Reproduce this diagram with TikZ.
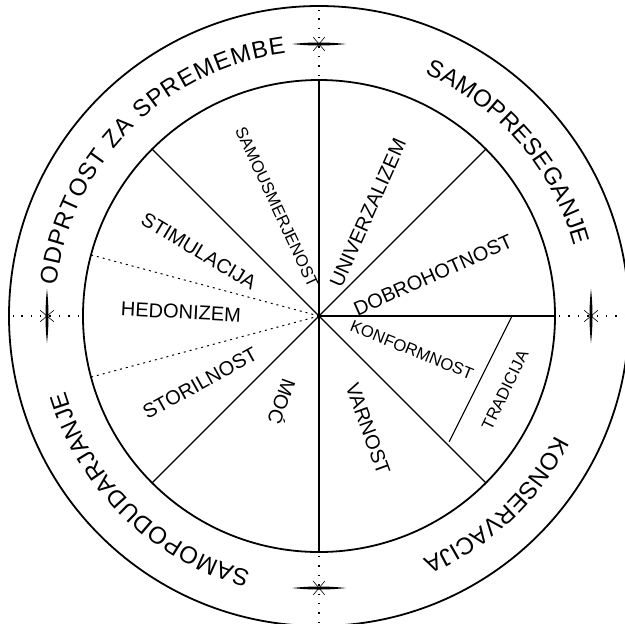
\documentclass[tikz,border=0pt]{standalone}
\usepackage{fontspec}
\setmainfont{Liberation Sans}
\usetikzlibrary{decorations.text}

\begin{document}
\begin{tikzpicture}[
  x=0.5pt, y=0.5pt,
  ring/.style={line width=0.9pt},
  spoke/.style={line width=0.55pt},
  dotspoke/.style={line width=0.5pt, dash pattern=on 1pt off 2pt},
  axisdots/.style={line width=0.7pt, dash pattern=on 0.7pt off 4pt},
  lbl/.style={inner sep=0pt, font=\fontsize{10}{12}\selectfont},
  smalllbl/.style={lbl, font=\fontsize{8.3}{10}\selectfont},
  arclbl/.style={decorate, decoration={text along path, text align={fit to path},
    text={|\fontsize{12}{14}\selectfont|#1}}}
]
  \fill[white] (-319,-307) rectangle (306,316);
  \useasboundingbox (-319,-307) rectangle (306,316);
  \clip (-319,-307) rectangle (306,316);
  \coordinate (c) at (0,0);

  % outer and inner circle
  \draw[ring] (c) circle[radius=310];
  \draw[ring] (c) circle[radius=236];

  % sectors
  \draw[ring] (90:236) -- (270:236);
  \draw[spoke, line width=0.8pt] (c) -- (0:236);
  \foreach \a in {45,135,225,315}
    \draw[spoke] (c) -- (\a:236);
  \foreach \a in {165,195}
    \draw[dotspoke] (c) -- (\a:236);
  \coordinate (tradA) at (0:193);
  \coordinate (tradB) at (-44:181);
  \draw[spoke] (tradA) -- (tradB);

  % marks on the axes
  \foreach \a in {0,90,180,270} {
    \draw[axisdots] (\a:240) -- (\a:306);
    \begin{scope}[rotate=\a]
      \fill (272,-27) .. controls (274,-9) and (274,9) .. (272,27)
        .. controls (270,9) and (270,-9) .. cycle;
      \draw[line width=0.3pt] (272,0) ++(40:9) -- ++(220:18);
      \draw[line width=0.3pt] (272,0) ++(140:9) -- ++(320:18);
    \end{scope}
  }

  % value types
  \node[smalllbl, rotate=-65] (samousmerjenost) at (-42,109) {SAMOUSMERJENOST};
  \node[lbl, rotate=66] (univerzalizem) at (49,103) {UNIVERZALIZEM};
  \node[lbl, rotate=24] (dobrohotnost) at (114,41) {DOBROHOTNOST};
  \node[smalllbl, rotate=-22] (konformnost) at (93,-34) {KONFORMNOST};
  \node[smalllbl, rotate=64] (tradicija) at (186,-74) {TRADICIJA};
  \node[lbl, rotate=-70] (varnost) at (49,-113) {VARNOST};
  \node[lbl, rotate=-110] (moc) at (-36,-86) {MOĆ};
  \node[lbl, rotate=29] (storilnost) at (-119,-67) {STORILNOST};
  \node[lbl, rotate=-3] (hedonizem) at (-138,4) {HEDONIZEM};
  \node[lbl, rotate=-31] (stimulacija) at (-120,65) {STIMULACIJA};

  % higher order types
  \path[arclbl={ODPRTOST ZA SPREMEMBE}] (173.3:264.5) arc[start angle=173.3, end angle=97.2, radius=264.5];
  \path[arclbl={SAMOPRESEGANJE}] (66.5:264.5) arc[start angle=66.5, end angle=15.3, radius=264.5];
  \path[arclbl={KONSERVACIJA}] (-26.8:264.5) arc[start angle=-26.8, end angle=-66.8, radius=264.5];
  \path[arclbl={SAMOPODUDARJANJE}] (255:264.5) arc[start angle=255, end angle=196.5, radius=264.5];
\end{tikzpicture}
\end{document}
